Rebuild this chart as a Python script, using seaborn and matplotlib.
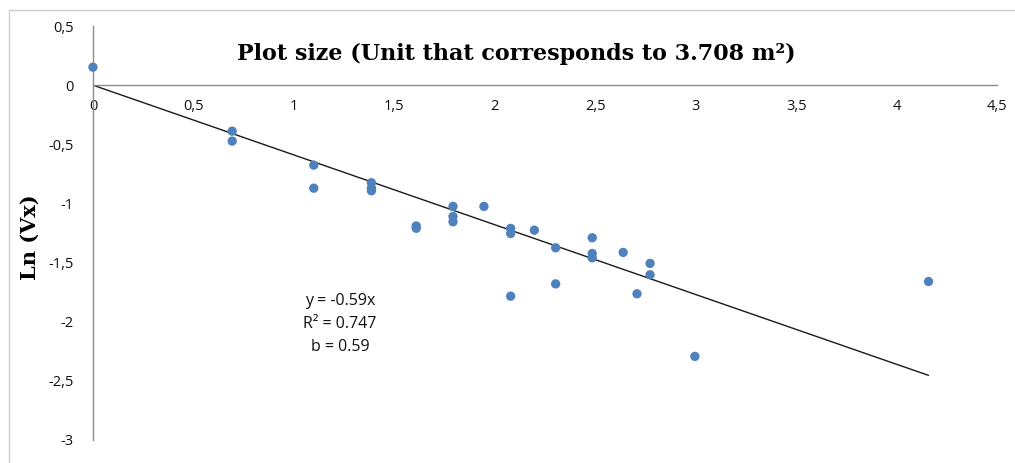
import numpy as np
import pandas as pd
import matplotlib
matplotlib.use("Agg")
import matplotlib.pyplot as plt
import seaborn as sns
from matplotlib.lines import Line2D

# ---- data ----
ln_plot_size = [0.0, 0.693, 0.693, 1.099, 1.099, 1.386, 1.386, 1.386,
                1.609, 1.609, 1.792, 1.792, 1.792, 1.946, 2.079, 2.079, 2.079,
                2.197, 2.303, 2.303, 2.485, 2.485, 2.485, 2.639, 2.708,
                2.773, 2.773, 2.996, 4.159]
ln_vx = [0.152, -0.389, -0.473, -0.676, -0.871, -0.825, -0.870, -0.893,
         -1.190, -1.210, -1.025, -1.110, -1.155, -1.025, -1.211, -1.254, -1.784,
         -1.226, -1.375, -1.680, -1.290, -1.423, -1.460, -1.414, -1.764,
         -1.507, -1.603, -2.293, -1.660]
slope = -0.59
x_ticks = [0, 0.5, 1, 1.5, 2, 2.5, 3, 3.5, 4, 4.5]
y_ticks = [0.5, 0, -0.5, -1, -1.5, -2, -2.5, -3]
title = "Plot size (Unit that corresponds to 3.708 m\u00b2)"
ylabel = "Ln (Vx)"
equation = "y = -0.59x\nR\u00b2 = 0.747\nb = 0.59"

df = pd.DataFrame({"x": ln_plot_size, "y": ln_vx})

sns.set_style("white")
plt.rcParams["font.family"] = ["Open Sans", "DejaVu Sans"]

fig = plt.figure(figsize=(10.15, 4.63), dpi=100)
ax = fig.add_axes([0.0916, 0.0497, 0.8907, 0.8941])

# outer chart border (top & left visible)
fig.add_artist(Line2D([0.009, 1.0], [0.978, 0.978], color="#d0d0d0", lw=1.0,
                      transform=fig.transFigure))
fig.add_artist(Line2D([0.009, 0.009], [0.0, 0.978], color="#d0d0d0", lw=1.0,
                      transform=fig.transFigure))

# trend line
xline = np.array([0.0, max(ln_plot_size)])
ax.plot(xline, slope * xline, color="#1a1a1a", lw=1.0, zorder=2)

sns.scatterplot(data=df, x="x", y="y", ax=ax, color="#4F81BD", s=45,
                edgecolor="none", zorder=3, clip_on=False)

ax.set_xlim(0, 4.5)
ax.set_ylim(-3, 0.5)

# spines: left at x=0, bottom at y=0
ax.spines["left"].set_position(("data", 0))
ax.spines["bottom"].set_position(("data", 0))
ax.spines["top"].set_visible(False)
ax.spines["right"].set_visible(False)
for s in ["left", "bottom"]:
    ax.spines[s].set_color("#8c8c8c")
    ax.spines[s].set_linewidth(1.0)

def fmt(v):
    return ("%g" % v).replace(".", ",")

ax.set_xticks(x_ticks)
ax.set_xticklabels([fmt(v) for v in x_ticks])
ax.set_yticks(y_ticks)
ax.set_yticklabels([fmt(v) for v in y_ticks])
ax.tick_params(axis="both", direction="out", length=5, width=1.0,
               color="#8c8c8c", labelsize=10.5, labelcolor="#111111")
ax.tick_params(axis="x", pad=5)
ax.tick_params(axis="y", pad=9)
ax.set_xlabel("")
ax.set_ylabel("")

fig.text(0.509, 0.883, title, ha="center", va="center",
         fontsize=16, fontweight="bold", family=["DejaVu Serif"], color="black")
fig.text(0.029, 0.487, ylabel, ha="center", va="center", rotation=90,
         fontsize=15, fontweight="bold", family=["DejaVu Serif"], color="black")

ax.text(1.23, -2.02, equation, ha="center", va="center", fontsize=11.5,
        linespacing=1.6, color="#111111")

fig.savefig("out.png", dpi=100)
